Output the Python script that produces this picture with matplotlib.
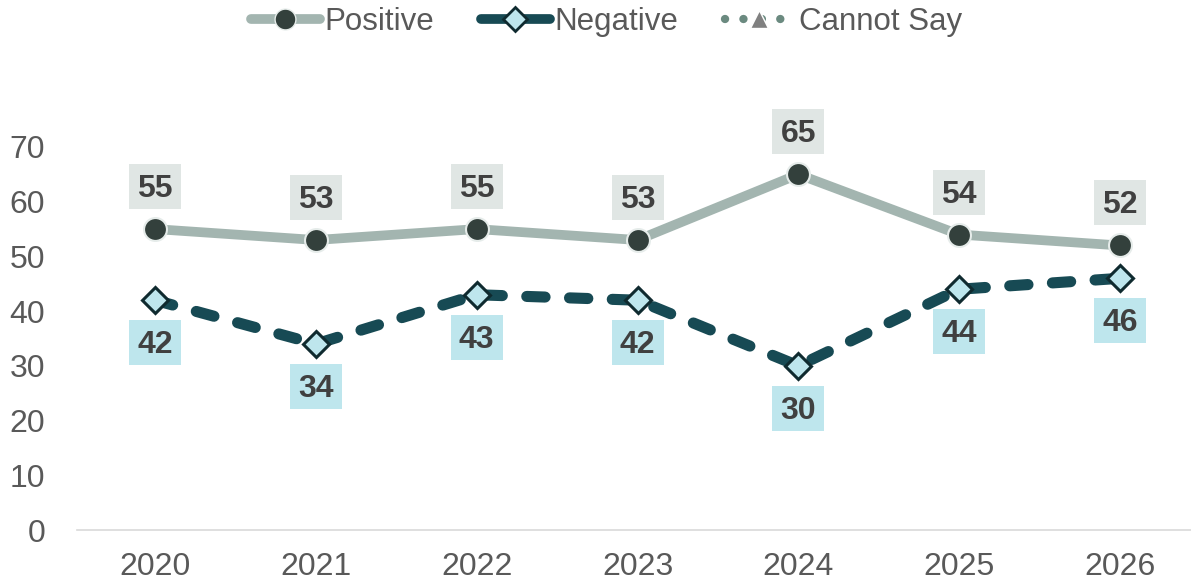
import matplotlib
matplotlib.use("Agg")
import matplotlib.pyplot as plt
from matplotlib.lines import Line2D
from matplotlib.patches import Rectangle
from matplotlib.transforms import Affine2D

plt.rcParams['font.family'] = ['Liberation Sans', 'DejaVu Sans']

years = ["2020", "2021", "2022", "2023", "2024", "2025", "2026"]
positive = [55, 53, 55, 53, 65, 54, 52]
negative = [42, 34, 43, 42, 30, 44, 46]
yticks = [0, 10, 20, 30, 40, 50, 60, 70]

W, H = 1191, 583
DPI = 100
fig = plt.figure(figsize=(W / DPI, H / DPI), dpi=DPI)
left_px, right_px = 77, 1198
bot_px, top_px = 530, 147
ax = fig.add_axes([left_px / W, (H - bot_px) / H, (right_px - left_px) / W, (bot_px - top_px) / H])

x = list(range(len(years)))
pos_line_c = "#A3B5B0"
pos_mark_c = "#33403C"
neg_line_c = "#174A54"
neg_mark_c = "#BEE6ED"
pos_box_c = "#E0E6E4"
txt_c = "#404040"

ax.plot(x, positive, color=pos_line_c, lw=7, solid_capstyle='round', zorder=2,
        marker='o', markersize=16.5, markerfacecolor=pos_mark_c, markeredgecolor="#E6ECEA", markeredgewidth=1.5)
ax.plot(x, negative, color=neg_line_c, lw=8, linestyle=(0, (1.65, 2.2)), dash_capstyle='round', zorder=2,
        marker='D', markersize=13, markerfacecolor=neg_mark_c, markeredgecolor="#0F2A2F", markeredgewidth=2.2)

ax.set_xlim(-0.485, 6.485)
ax.set_ylim(0, 70)
fig.canvas.draw()

box_w, box_h, off = 52, 45, 42.5  # pixels


def label(xi, v, dy, fc):
    px, py = ax.transData.transform((xi, v))
    t = Affine2D().translate(px - box_w / 2, py + dy - box_h / 2)
    r = Rectangle((0, 0), box_w, box_h, facecolor=fc, edgecolor='none', zorder=4, clip_on=False)
    ax.add_patch(r)
    r.set_transform(t)
    ax.annotate(str(v), (xi, v), xytext=(0, dy * 72 / DPI - 1.8), textcoords='offset points', ha='center',
                va='center', fontsize=23, fontweight='bold', color=txt_c, zorder=5, annotation_clip=False)


for xi, v in zip(x, positive):
    label(xi, v, off, pos_box_c)
for xi, v in zip(x, negative):
    label(xi, v, -off, neg_mark_c)

ax.set_yticks(yticks)
ax.set_xticks(x)
ax.set_xticklabels(years)
ax.tick_params(axis='both', length=0, labelsize=23, labelcolor="#595959")
ax.tick_params(axis='y', pad=23)
ax.tick_params(axis='x', pad=16)
for s in ['top', 'right', 'left']:
    ax.spines[s].set_visible(False)
ax.spines['bottom'].set_color("#D9D9D9")
ax.spines['bottom'].set_linewidth(1.2)
ax.set_facecolor('none')

handles = [
    Line2D([], [], color=pos_line_c, lw=7, marker='o', markersize=15, markerfacecolor=pos_mark_c,
           markeredgecolor="#E6ECEA", solid_capstyle='round'),
    Line2D([], [], color=neg_line_c, lw=7, marker='D', markersize=12, markerfacecolor=neg_mark_c,
           markeredgecolor="#0F2A2F", markeredgewidth=2, solid_capstyle='round'),
    Line2D([], [], color="#6B8A80", lw=6, linestyle=(0, (0.01, 2.2)), dash_capstyle='round',
           marker='^', markersize=13, markerfacecolor="#808080", markeredgecolor="white", markeredgewidth=1),
]
fig.legend(handles, ["Positive", "Negative", "Cannot Say"], loc='upper center', bbox_to_anchor=(0.509, 1.036),
           ncol=3, frameon=False, fontsize=22.5, labelcolor="#595959", handlelength=2.2,
           handletextpad=0.15, columnspacing=1.5)

fig.savefig("out.png", dpi=DPI)
